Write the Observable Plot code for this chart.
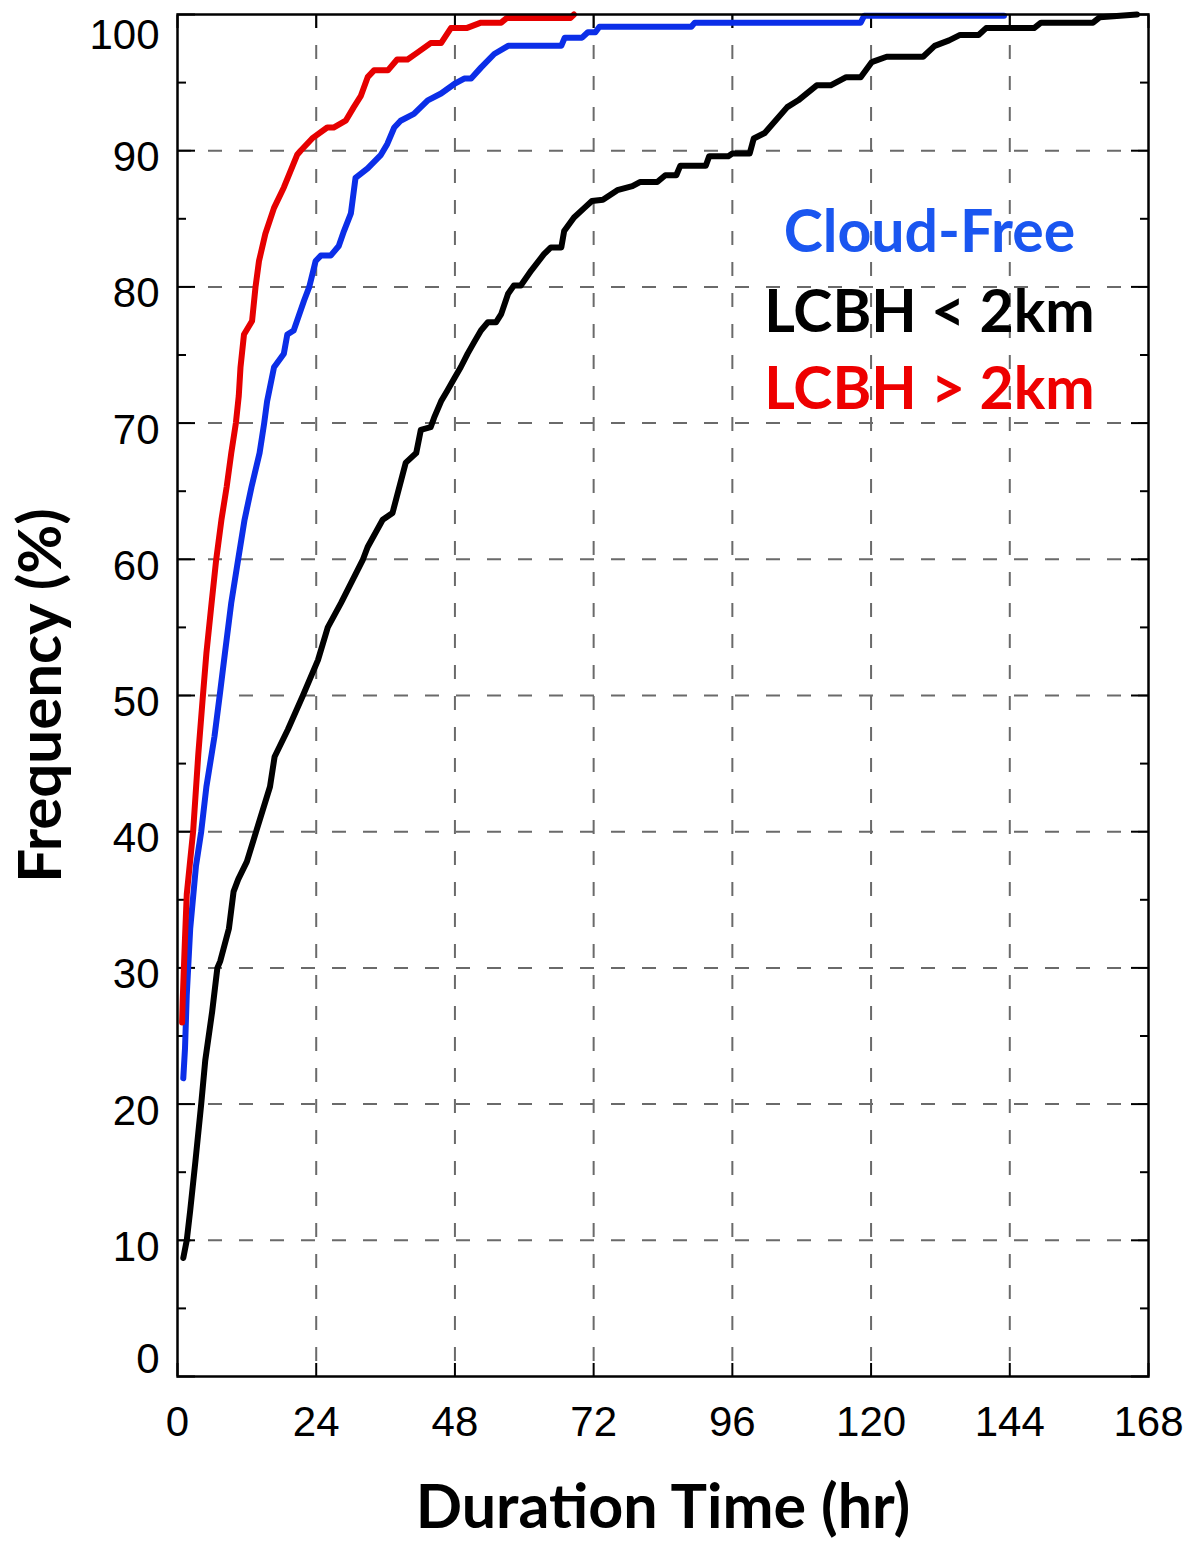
<!DOCTYPE html>
<html>
<head>
<meta charset="utf-8">
<script src="https://cdn.jsdelivr.net/npm/d3@7"></script>
<script src="https://cdn.jsdelivr.net/npm/@observablehq/plot@0.6"></script>
<style>
  html, body { margin: 0; padding: 0; background: #fff; }
  #chart svg { display: block; overflow: visible; }
</style>
</head>
<body>
<div id="chart"></div>
<script>
// ---- data ----
const xTicks = [0, 24, 48, 72, 96, 120, 144, 168];
const yTicks = [0, 10, 20, 30, 40, 50, 60, 70, 80, 90, 100];
const yMinorTicks = [5, 15, 25, 35, 45, 55, 65, 75, 85, 95];

const seriesNames = ["Cloud-Free", "LCBH < 2km", "LCBH > 2km"];
const seriesColors = ["#0b2ee8", "#000000", "#e60000"];
const legendColors = ["#1a56f0", "#000000", "#ee0000"];

const cloudFreeHours = [1.0, 1.3, 1.6, 2.2, 3.2, 4.1, 5.0, 6.4, 7.3, 8.2, 9.3, 10.5, 11.6, 12.8, 14.2, 15.0, 15.5, 16.7, 18.4, 19.0, 20.1, 21.9, 22.8, 23.9, 24.8, 26.5, 27.9, 28.8, 30.0, 30.8, 32.9, 35.2, 36.3, 37.5, 38.6, 40.9, 43.3, 45.6, 47.9, 49.6, 50.8, 52.5, 54.8, 57.2, 66.4, 67.0, 70.0, 71.0, 72.3, 73.0, 88.9, 89.5, 118.2, 118.8, 143.0];
const cloudFreeFreq  = [21.9, 24.1, 28.0, 32.9, 37.5, 40.0, 43.3, 47.0, 50.0, 53.1, 56.8, 60.0, 62.9, 65.3, 67.8, 70.0, 71.6, 74.1, 75.1, 76.5, 76.8, 79.0, 80.0, 81.9, 82.3, 82.3, 83.0, 84.1, 85.4, 88.0, 88.7, 89.7, 90.5, 91.7, 92.2, 92.7, 93.7, 94.2, 94.9, 95.3, 95.3, 96.1, 97.1, 97.7, 97.7, 98.3, 98.3, 98.7, 98.7, 99.1, 99.1, 99.4, 99.4, 99.9, 99.9];

const lowHours = [1.0, 1.6, 2.2, 3.1, 4.1, 4.8, 6.0, 6.9, 7.4, 8.9, 9.7, 10.5, 12.0, 13.6, 16.0, 16.8, 19.1, 21.7, 24.3, 26.0, 28.3, 32.1, 32.9, 35.5, 37.2, 39.5, 41.3, 42.1, 43.8, 44.4, 45.6, 46.7, 47.9, 49.0, 50.2, 51.4, 52.5, 53.7, 55.1, 56.0, 57.2, 58.2, 59.4, 61.2, 63.4, 64.6, 66.4, 66.9, 68.6, 70.4, 71.7, 73.6, 76.1, 78.7, 80.0, 83.0, 84.4, 86.3, 87.0, 91.4, 92.0, 95.3, 96.0, 99.0, 99.7, 101.6, 105.5, 107.4, 110.6, 113.0, 115.7, 118.2, 120.1, 122.7, 129.0, 131.0, 133.5, 135.4, 138.6, 139.9, 148.2, 149.4, 158.4, 159.6, 166.0];
const lowFreq  = [8.7, 10.0, 12.2, 15.8, 20.0, 23.2, 26.8, 30.0, 30.5, 32.9, 35.6, 36.5, 37.8, 40.0, 43.3, 45.5, 47.5, 50.0, 52.6, 55.0, 56.8, 60.0, 60.9, 62.9, 63.4, 67.1, 67.8, 69.5, 69.7, 70.4, 71.6, 72.4, 73.3, 74.1, 75.1, 76.0, 76.8, 77.4, 77.4, 78.0, 79.5, 80.1, 80.1, 81.2, 82.4, 82.9, 82.9, 84.1, 85.1, 85.8, 86.3, 86.4, 87.1, 87.4, 87.7, 87.7, 88.2, 88.2, 88.9, 88.9, 89.6, 89.6, 89.8, 89.8, 90.9, 91.3, 93.2, 93.7, 94.8, 94.8, 95.4, 95.4, 96.5, 96.9, 96.9, 97.7, 98.1, 98.5, 98.5, 99.0, 99.0, 99.4, 99.4, 99.8, 100.0];

const highHours = [0.8, 0.9, 1.3, 1.6, 2.1, 2.7, 3.6, 4.4, 5.0, 5.9, 6.7, 7.6, 8.5, 9.3, 10.1, 10.6, 10.9, 11.5, 12.9, 13.5, 14.1, 15.2, 16.7, 18.4, 20.7, 21.3, 23.3, 25.9, 27.0, 29.1, 30.5, 31.7, 32.9, 34.0, 36.4, 38.0, 39.8, 41.5, 43.8, 45.6, 47.3, 50.0, 52.5, 56.0, 57.0, 68.0, 68.6];
const highFreq  = [26.0, 27.6, 32.2, 35.4, 37.5, 40.0, 45.7, 50.0, 53.1, 56.8, 60.0, 62.9, 65.3, 67.8, 70.0, 72.0, 74.1, 76.5, 77.5, 80.0, 81.9, 83.9, 85.8, 87.3, 89.7, 90.0, 90.9, 91.7, 91.7, 92.2, 93.2, 94.0, 95.4, 95.9, 95.9, 96.7, 96.7, 97.2, 97.9, 97.9, 99.0, 99.0, 99.4, 99.4, 99.75, 99.75, 100.0];

// ---- build table ----
const rows = [];
[[cloudFreeHours, cloudFreeFreq, seriesNames[0]],
 [lowHours, lowFreq, seriesNames[1]],
 [highHours, highFreq, seriesNames[2]]].forEach(([hs, fs, name]) => {
  hs.forEach((h, i) => rows.push({series: name, hour: h, freq: fs[i]}));
});

const tickFont = "Liberation Sans, Arial, Helvetica, sans-serif";
const titleFont = "Lato, 'Open Sans', sans-serif";

const W = 1200, H = 1551;
const mL = 177, mR = 52, mT = 14, mB = 175;

const gridStyle = {stroke: "#6a6a6a", strokeOpacity: 1, strokeWidth: 2, strokeDasharray: "14,17"};
const labelStyle = {anchor: "left", tickSize: 0, tickPadding: 18, fontSize: 42, fill: "#000", label: null, tickFormat: d => String(d)};

const legendMarks = seriesNames.map((name, i) =>
  Plot.text([name], {
    frameAnchor: "top-right", text: d => d, dx: -219, dy: [219, 299, 376][i],
    fill: legendColors[i], fontSize: 59, fontWeight: "bold", fontFamily: titleFont,
    textAnchor: "middle", lineAnchor: "middle"
  })
);

const chart = Plot.plot({
  width: W, height: H,
  marginLeft: mL, marginRight: mR, marginTop: mT, marginBottom: mB,
  style: {background: "#fff", fontFamily: tickFont, overflow: "visible"},
  x: {domain: [0, 168]},
  y: {domain: [0, 100]},
  color: {domain: seriesNames, range: seriesColors},
  marks: [
    Plot.gridX(xTicks.slice(1, -1), gridStyle),
    Plot.gridY(yTicks.slice(1, -1), gridStyle),
    // tick labels
    Plot.axisX(xTicks, {anchor: "bottom", tickSize: 0, tickPadding: 30, fontSize: 42, fill: "#000", label: null, tickFormat: d => String(d)}),
    Plot.axisY(yTicks.slice(1, -1), {...labelStyle, dy: 7}),
    Plot.axisY(yTicks.slice(-1), {...labelStyle, dy: 21}),
    Plot.axisY(yTicks.slice(0, 1), {...labelStyle, dy: -17}),
    // inward ticks
    Plot.axisX(xTicks, {anchor: "bottom", tickSize: -13, text: null, label: null, stroke: "#000", strokeWidth: 2}),
    Plot.axisX(xTicks, {anchor: "top", tickSize: -13, text: null, label: null, stroke: "#000", strokeWidth: 2}),
    Plot.axisY(yTicks, {anchor: "left", tickSize: -18, text: null, label: null, stroke: "#000", strokeWidth: 2}),
    Plot.axisY(yTicks, {anchor: "right", tickSize: -18, text: null, label: null, stroke: "#000", strokeWidth: 2}),
    Plot.axisY(yMinorTicks, {anchor: "left", tickSize: -9, text: null, label: null, stroke: "#000", strokeWidth: 2}),
    Plot.axisY(yMinorTicks, {anchor: "right", tickSize: -9, text: null, label: null, stroke: "#000", strokeWidth: 2}),
    // data lines
    Plot.line(rows, {x: "hour", y: "freq", z: "series", stroke: "series", strokeWidth: 6, strokeLinejoin: "round", strokeLinecap: "round"}),
    Plot.frame({stroke: "#000", strokeWidth: 2.5}),
    // axis titles
    Plot.text(["Duration Time (hr)"], {frameAnchor: "bottom", text: d => d, dy: 132, lineAnchor: "middle", textAnchor: "middle", fontSize: 61, fontWeight: "bold", fontFamily: titleFont, fill: "#000"}),
    Plot.text(["Frequency (%)"], {frameAnchor: "left", text: d => d, dx: -136, rotate: -90, lineAnchor: "middle", textAnchor: "middle", fontSize: 60, fontWeight: "bold", fontFamily: titleFont, fill: "#000"}),
    ...legendMarks
  ]
});
document.getElementById("chart").appendChild(chart);
</script>
</body>
</html>
